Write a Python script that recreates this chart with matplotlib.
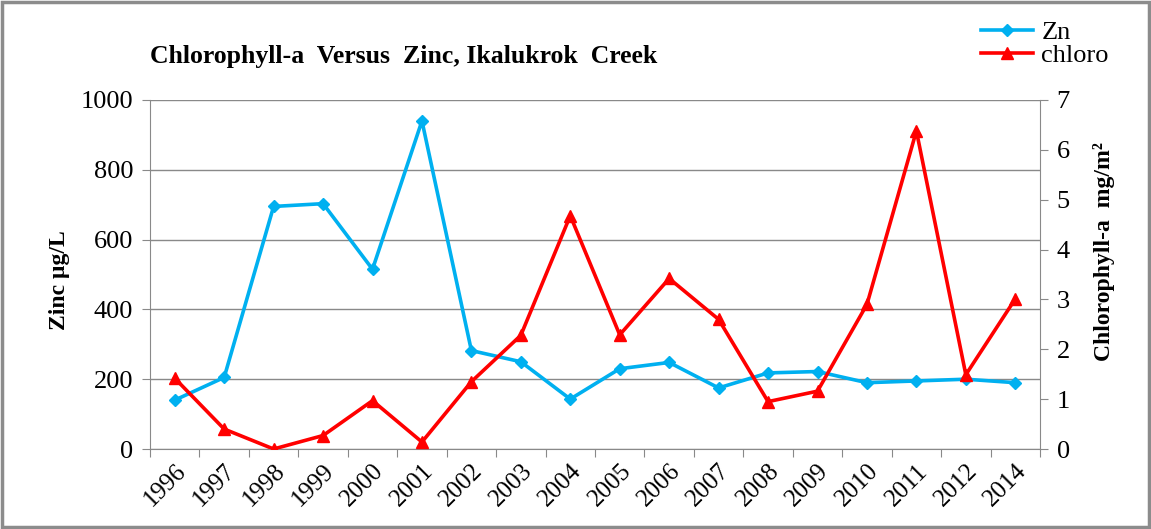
import matplotlib
matplotlib.use("Agg")
import matplotlib.pyplot as plt
from matplotlib.patches import Rectangle

years = ["1996", "1997", "1998", "1999", "2000", "2001", "2002", "2003", "2004",
         "2005", "2006", "2007", "2008", "2009", "2010", "2011", "2012", "2014"]
zinc = [140, 205, 695, 703, 515, 940, 282, 250, 143,
        230, 248, 175, 218, 222, 190, 195, 200, 190]
chloro = [1.42, 0.40, 0.00, 0.27, 0.97, 0.14, 1.35, 2.28, 4.68,
          2.29, 3.42, 2.60, 0.95, 1.16, 2.90, 6.38, 1.49, 3.01]

ZN_COLOR = "#00B0F0"
CH_COLOR = "#FF0000"
AX_COLOR = "#898989"
W, H = 1151, 529

plt.rcParams["font.family"] = ["Liberation Serif", "DejaVu Serif"]

fig = plt.figure(figsize=(W / 100, H / 100), dpi=100)
ax = fig.add_axes([150 / W, 1 - 449 / H, 890 / W, 349 / H])
ax2 = ax.twinx()

x = list(range(len(years)))
ln1, = ax.plot(x, zinc, color=ZN_COLOR, lw=2.6, marker="D", ms=6.5, label="Zn")
ln2, = ax2.plot(x, chloro, color=CH_COLOR, lw=2.6, marker="^", ms=9, label="chloro")

ax.set_xlim(-0.5, len(years) - 0.5)
ax.set_ylim(0, 1000)
ax2.set_ylim(0, 7)
ax.set_yticks(range(0, 1001, 200))
ax2.set_yticks(range(0, 8))

# ticks at category boundaries, labels at centres
ax.set_xticks([i - 0.5 for i in range(len(years) + 1)])
ax.set_xticklabels([])
ax.set_xticks(x, minor=True)
ax.set_xticklabels(years, minor=True, rotation=45, ha="right", rotation_mode="anchor",
                   fontsize=18)
ax.tick_params(axis="x", which="minor", length=0, pad=8)
ax.tick_params(axis="x", which="major", length=6, color=AX_COLOR)

ax.yaxis.grid(True, color=AX_COLOR, lw=1)
ax.set_axisbelow(True)
ax.tick_params(axis="y", labelsize=19, length=6, color=AX_COLOR, pad=6)
ax2.tick_params(axis="y", labelsize=19, length=6, color=AX_COLOR, pad=6)

for a in (ax, ax2):
    a.spines["top"].set_visible(False)
    for s in ("left", "right", "bottom"):
        a.spines[s].set_color(AX_COLOR)
ax.spines["right"].set_visible(False)
ax2.spines["left"].set_visible(False)
ax2.spines["bottom"].set_visible(False)

fig.text(60 / W, 1 - 280 / H, "Zinc µg/L", rotation=90, fontsize=17,
         fontweight="bold", ha="center", va="center")
fig.text(1104 / W, 1 - 252 / H, "Chlorophyll-a  mg/m²", rotation=90, fontsize=17,
         fontweight="bold", ha="center", va="center")

fig.text(150 / W, 1 - 57 / H, "Chlorophyll-a  Versus  Zinc, Ikalukrok  Creek",
         fontsize=18.5, fontweight="bold", va="center", ha="left")

fig.legend(handles=[ln1, ln2], loc="upper left", bbox_to_anchor=(970 / W, 1 - 10 / H),
           frameon=False, fontsize=19, handlelength=2.0, handletextpad=0.3,
           labelspacing=0.0, borderaxespad=0)

fig.patches.append(Rectangle((0.002, 0.003), 0.996, 0.994, transform=fig.transFigure,
                             fill=False, edgecolor="#8c8c8c", lw=2.5))

fig.savefig("out.png", dpi=100)
